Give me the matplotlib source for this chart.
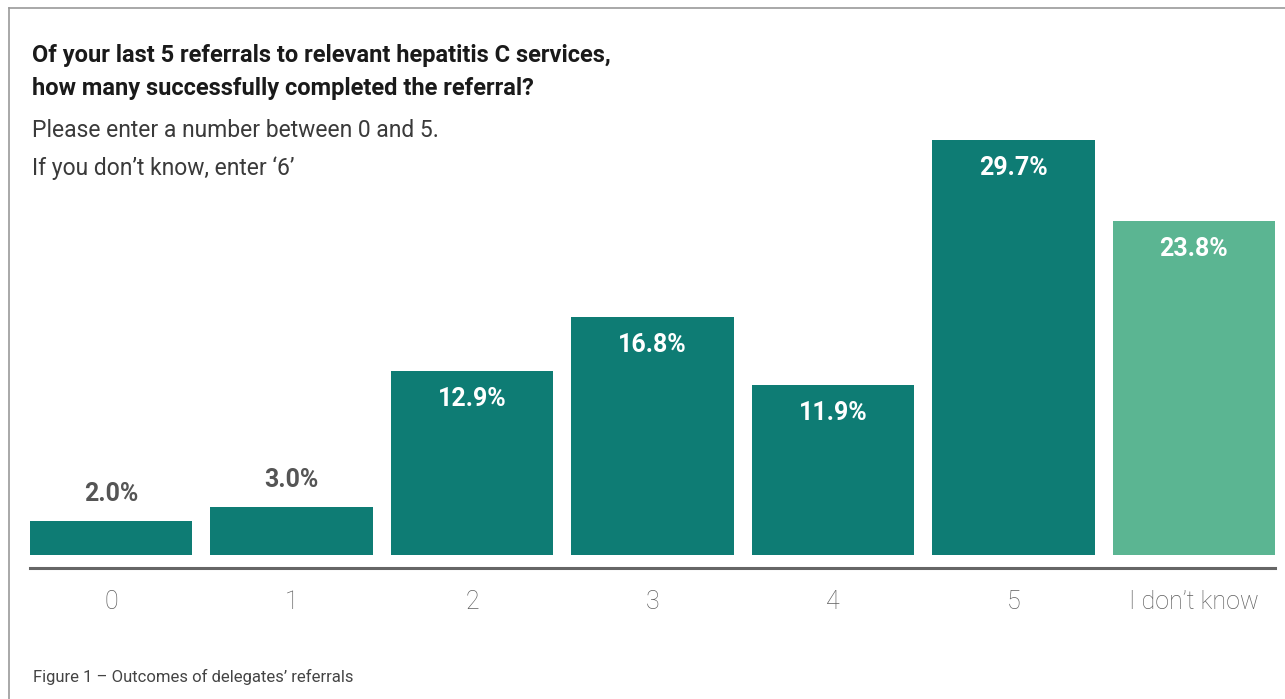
import matplotlib.pyplot as plt
from matplotlib.lines import Line2D

categories = ['0', '1', '2', '3', '4', '5', 'I don\u2019t know']
values = [2.0, 3.0, 12.9, 16.8, 11.9, 29.7, 23.8]
bar_colors = ['#0e7c74'] * 6 + ['#5bb592']

font = ['Roboto', 'DejaVu Sans']

fig = plt.figure(figsize=(12.85, 6.99), dpi=100)
W, H = 1285, 699

# axes: bars start at pixel 555, chart area x=30..1275
ax = fig.add_axes([30 / W, (H - 555) / H, 1245 / W, (555 - 121.5) / H])
x = list(range(len(categories)))
y0 = -0.47  # bars run down to the bottom edge of the plot area
ax.bar(x, [v - y0 for v in values], bottom=y0, width=0.9, color=bar_colors)
ax.set_xlim(-0.45, len(categories) - 0.55)
ax.set_ylim(y0, 31.05)
ax.axis('off')

for xi, v in zip(x, values):
    if v > 8:
        ax.annotate(f'{v:.1f}%', (xi, v), xytext=(0, -28), textcoords='offset pixels',
                    ha='center', va='center', color='white', fontsize=18,
                    fontweight='bold', family=font)
    else:
        ax.annotate(f'{v:.1f}%', (xi, v), xytext=(0, 27), textcoords='offset pixels',
                    ha='center', va='center', color='#555555', fontsize=18,
                    fontweight='bold', family=font)

# category labels under axis line
for xi, lab in zip(x, categories):
    ax.annotate(lab, (xi, 0), xycoords=('data', 'figure fraction'),
                xytext=(0, H - 602), textcoords='offset pixels',
                ha='center', va='center', fontsize=18, color='#5e5e5e',
                fontweight='light', family=font)

# axis line
fig.add_artist(Line2D([30 / W, 1275 / W], [(H - 568) / H] * 2, color='#666666', lw=2.2))

# frame border (top and left)
fig.add_artist(Line2D([9 / W, 1.0], [(H - 8) / H] * 2, color='#9a9a9a', lw=1.2))
fig.add_artist(Line2D([9 / W, 9 / W], [0, (H - 8) / H], color='#9a9a9a', lw=1.2))

# title and subtitle
fig.text(32 / W, (H - 62) / H, 'Of your last 5 referrals to relevant hepatitis C services,',
         fontsize=17, fontweight='bold', color='#1a1a1a', family=font, va='baseline')
fig.text(32 / W, (H - 95) / H, 'how many successfully completed the referral?',
         fontsize=17, fontweight='bold', color='#1a1a1a', family=font, va='baseline')
fig.text(32 / W, (H - 137) / H, 'Please enter a number between 0 and 5.',
         fontsize=16.5, fontweight='normal', color='#3a3a3a', family=font, va='baseline')
fig.text(32 / W, (H - 175) / H, 'If you don\u2019t know, enter \u20186\u2019',
         fontsize=16.5, fontweight='normal', color='#3a3a3a', family=font, va='baseline')

fig.text(33 / W, (H - 677) / H, 'Figure 1 \u2013 Outcomes of delegates\u2019 referrals',
         fontsize=12, fontweight='normal', color='#444444', family=font, va='center')

fig.savefig('out.png', dpi=100, facecolor='white')
